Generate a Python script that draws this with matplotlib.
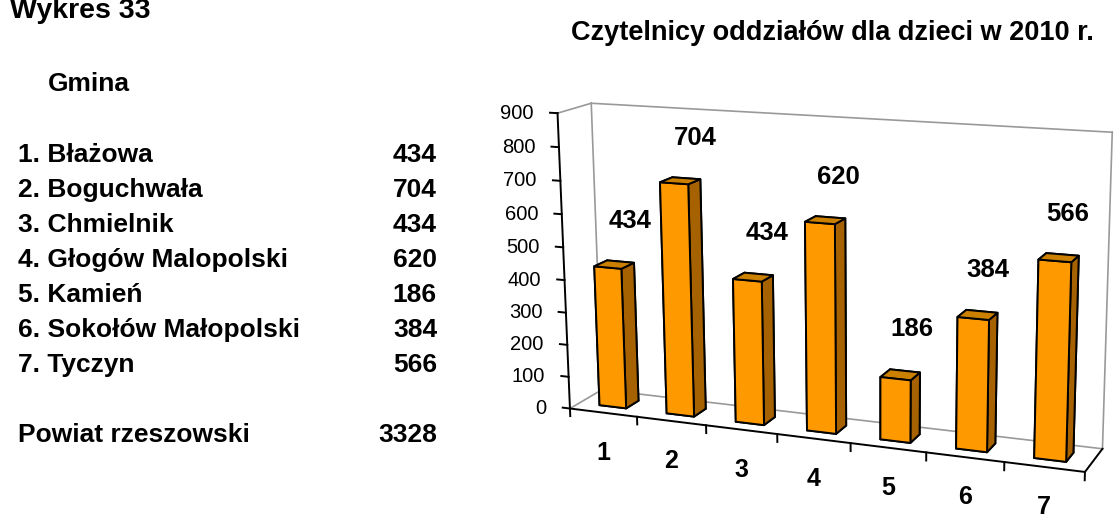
import numpy as np
import matplotlib
matplotlib.use('Agg')
import matplotlib.pyplot as plt

plt.rcParams['font.family'] = ['Liberation Sans', 'DejaVu Sans']

# czytelnicy oddzialow dla dzieci, 2010
gminy = ["Błażowa", "Boguchwała", "Chmielnik", "Głogów Malopolski",
         "Kamień", "Sokołów Małopolski", "Tyczyn"]
czytelnicy = [434, 704, 434, 620, 186, 384, 566]
numery = [str(i) for i in range(1, len(gminy) + 1)]
skala = list(range(0, 1000, 100))
tytul = "Czytelnicy oddziałów dla dzieci w 2010 r."

POMARANCZ = '#FF9900'
GORA = '#CC8000'
BOK = '#A66100'
SZARY = '#999999'

W, H = 1114, 518
fig = plt.figure(figsize=(W / 100, H / 100), dpi=100)

# tabelka po lewej
def napis(x, y, s, **kw):
    fig.text(x / W, 1 - y / H, s, va='baseline', fontweight='bold', **kw)

napis(10, 18, "Wykres 33", fontsize=20.5)
napis(48, 91, "Gmina", fontsize=19)
for i, (g, v) in enumerate(zip(gminy, czytelnicy)):
    napis(18, 162 + 35 * i, f"{i + 1}. {g}", fontsize=19)
    napis(437, 162 + 35 * i, str(v), fontsize=19, ha='right')
napis(18, 442, "Powiat rzeszowski", fontsize=19)
napis(437, 442, str(sum(czytelnicy)), fontsize=19, ha='right')

napis(832, 40, tytul, fontsize=19.5, ha='center')

# wykres 3D
ax = fig.add_axes([0.45355, -0.15564, 0.56, 1.20432], projection='3d',
                  computed_zorder=False)
ax.set_axis_off()
ax.patch.set_visible(False)

n = len(czytelnicy)
glebokosc = 1.0
gora = skala[-1]

kolory = []
for _ in range(n):
    # -z, +z, -y, +y, -x, +x
    kolory += [POMARANCZ, GORA, POMARANCZ, POMARANCZ, POMARANCZ, BOK]
ax.bar3d(np.arange(n) + 0.3, 0.3, 0, 0.4, 0.4, czytelnicy, color=kolory,
         edgecolor='black', linewidth=1.4, shade=False, zorder=2)

def linia(p, q, **kw):
    ax.plot(*zip(p, q), **kw)

szare = dict(color=SZARY, lw=1.2, zorder=1)
linia((0, 0, gora), (0, glebokosc, gora), **szare)
linia((0, glebokosc, gora), (0, glebokosc, 0), **szare)
linia((0, glebokosc, 0), (0, 0, 0), **szare)
linia((0, glebokosc, gora), (n, glebokosc, gora), **szare)
linia((n, glebokosc, gora), (n, glebokosc, 0), **szare)
linia((0, glebokosc, 0), (n, glebokosc, 0), **szare)

czarne = dict(color='black', lw=1.4, zorder=3)
linia((0, 0, 0), (0, 0, gora), **czarne)
linia((0, 0, 0), (n, 0, 0), **czarne)
linia((n, 0, 0), (n, glebokosc, 0), **czarne)
for z in skala:
    linia((0, 0, z), (-0.11, 0, z), **czarne)
for k in range(n + 1):
    linia((k, 0, 0), (k, 0, -24), **czarne)

ax.set_xlim(0, n)
ax.set_ylim(0, glebokosc)
ax.set_zlim(0, gora)
ax.set_box_aspect((1, 0.12764, 0.56648))
ax.view_init(elev=13.99, azim=-68.25, roll=0.40)
ax.set_proj_type('persp', focal_length=0.55)

M = ax.get_proj()

def rzut(x, y, z):
    r = M @ np.array([x, y, z, 1.0])
    return r[0] / r[3], r[1] / r[3]

for z in skala:
    ax.annotate(str(z), rzut(0, 0, z), xytext=(-17, 0), textcoords='offset points',
                ha='right', va='center', fontsize=14.5)
for k in range(n):
    ax.annotate(numery[k], rzut(k + 0.5, 0, 0), xytext=(0, -29),
                textcoords='offset points', ha='center', va='center',
                fontsize=18, fontweight='bold')
    ax.annotate(str(czytelnicy[k]), rzut(k + 0.5, glebokosc, czytelnicy[k]),
                xytext=(0, 26), textcoords='offset points', ha='center',
                va='center', fontsize=18.5, fontweight='bold')

fig.savefig('out.png', dpi=100)
